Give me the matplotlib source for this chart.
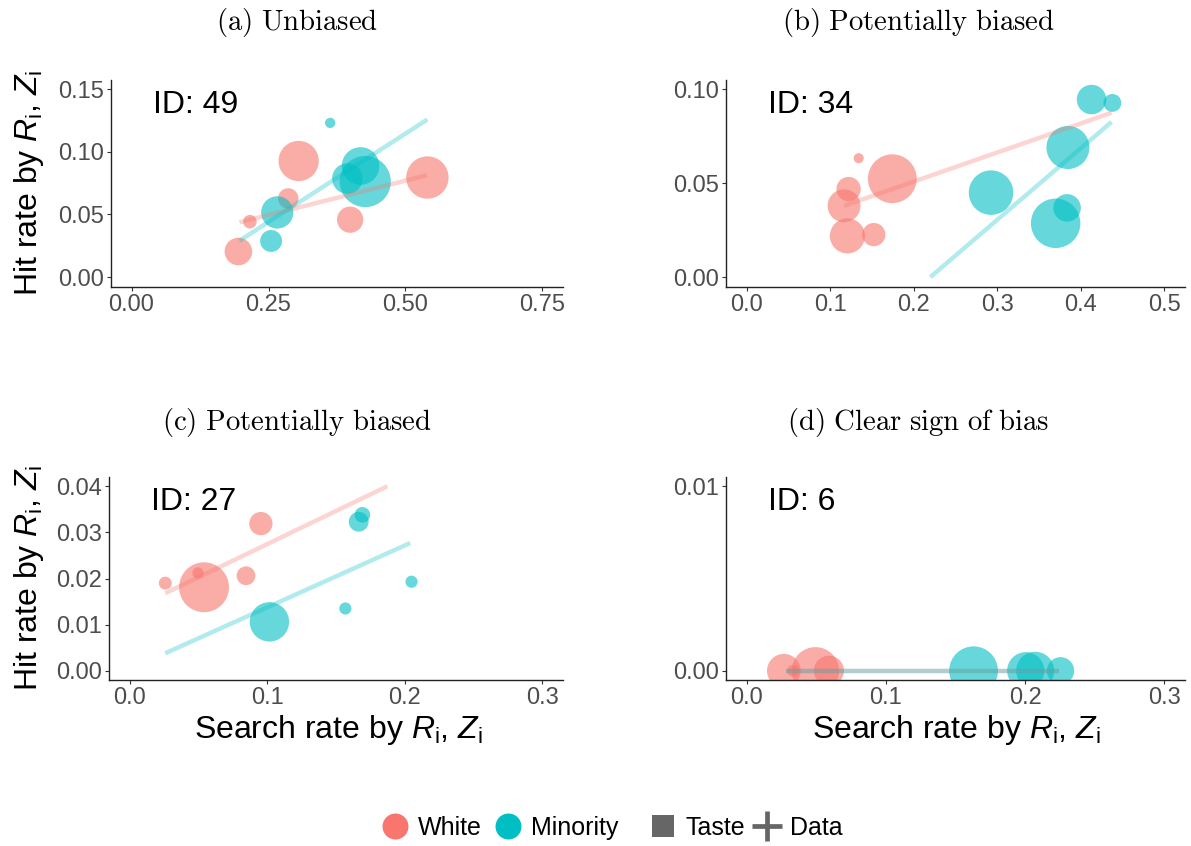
import matplotlib
matplotlib.use("Agg")
import matplotlib.pyplot as plt
from matplotlib.lines import Line2D

plt.rcParams['font.family'] = ['Liberation Sans', 'DejaVu Sans']
plt.rcParams['mathtext.fontset'] = 'custom'
plt.rcParams['mathtext.rm'] = 'Liberation Sans'
plt.rcParams['mathtext.it'] = 'Liberation Sans:italic'

# ---------------- data ----------------
titles = ["(a) Unbiased", "(b) Potentially biased", "(c) Potentially biased", "(d) Clear sign of bias"]
ids = ["49", "34", "27", "6"]

# panel (a)
a_white_x = [0.195, 0.216, 0.305, 0.286, 0.399, 0.540]
a_white_y = [0.0204, 0.0442, 0.0926, 0.0627, 0.0458, 0.0794]
a_white_n = [164, 40, 350, 90, 149, 388]
a_min_x = [0.3625, 0.266, 0.2547, 0.394, 0.418, 0.4266]
a_min_y = [0.123, 0.0516, 0.0288, 0.0786, 0.0886, 0.0762]
a_min_n = [23, 225, 104, 202, 306, 566]
a_white_line_x = [0.197, 0.539]
a_white_line_y = [0.0437, 0.0812]
a_min_line_x = [0.197, 0.540]
a_min_line_y = [0.029, 0.1257]

# panel (b)
b_white_x = [0.134, 0.1743, 0.1219, 0.1165, 0.1205, 0.1521]
b_white_y = [0.0632, 0.0523, 0.0468, 0.0379, 0.0219, 0.0226]
b_white_n = [22, 515, 128, 234, 266, 117]
b_min_x = [0.413, 0.438, 0.3847, 0.2926, 0.3837, 0.370]
b_min_y = [0.0944, 0.0926, 0.0689, 0.0449, 0.0368, 0.0286]
b_min_n = [188, 69, 400, 428, 164, 529]
b_white_line_x = [0.1165, 0.437]
b_white_line_y = [0.0379, 0.0874]
b_min_line_x = [0.2199, 0.437]
b_min_line_y = [0.0, 0.0825]

# panel (c)
c_white_x = [0.0259, 0.0497, 0.0541, 0.0846, 0.0954]
c_white_y = [0.0190, 0.0212, 0.0181, 0.0206, 0.0319]
c_white_n = [36, 28, 538, 76, 117]
c_min_x = [0.1692, 0.1665, 0.1016, 0.1568, 0.2049]
c_min_y = [0.0338, 0.0323, 0.0106, 0.0135, 0.0193]
c_min_n = [53, 85, 335, 32, 32]
c_white_line_x = [0.0259, 0.1873]
c_white_line_y = [0.0168, 0.0400]
c_min_line_x = [0.0259, 0.204]
c_min_line_y = [0.0038, 0.0277]

# panel (d)
d_white_x = [0.0266, 0.0493, 0.059, 0.0333]
d_white_y = [0.0, 0.0, 0.0, 0.0]
d_white_n = [246, 484, 196, 30]
d_min_x = [0.163, 0.2005, 0.2073, 0.2255]
d_min_y = [0.0, 0.0, 0.0, 0.0]
d_min_n = [515, 300, 313, 161]
d_white_line_x = [0.028, 0.2244]
d_white_line_y = [0.0, 0.0]
d_min_line_x = [0.028, 0.2244]
d_min_line_y = [0.0, 0.0]

x_ticks = [[0.0, 0.25, 0.5, 0.75], [0.0, 0.1, 0.2, 0.3, 0.4, 0.5], [0.0, 0.1, 0.2, 0.3], [0.0, 0.1, 0.2, 0.3]]
x_ticklabels = [["0.00", "0.25", "0.50", "0.75"], ["0.0", "0.1", "0.2", "0.3", "0.4", "0.5"],
                ["0.0", "0.1", "0.2", "0.3"], ["0.0", "0.1", "0.2", "0.3"]]
y_ticks = [[0.0, 0.05, 0.10, 0.15], [0.0, 0.05, 0.10], [0.0, 0.01, 0.02, 0.03, 0.04], [0.0, 0.01]]
y_ticklabels = [["0.00", "0.05", "0.10", "0.15"], ["0.00", "0.05", "0.10"],
                ["0.00", "0.01", "0.02", "0.03", "0.04"], ["0.00", "0.01"]]
x_lims = [(0, 0.75), (0, 0.5), (0, 0.3), (0, 0.3)]
y_lims = [(0, 0.15), (0, 0.10), (0, 0.04), (0, 0.01)]

panels = [
    (a_white_x, a_white_y, a_white_n, a_min_x, a_min_y, a_min_n, a_white_line_x, a_white_line_y, a_min_line_x, a_min_line_y),
    (b_white_x, b_white_y, b_white_n, b_min_x, b_min_y, b_min_n, b_white_line_x, b_white_line_y, b_min_line_x, b_min_line_y),
    (c_white_x, c_white_y, c_white_n, c_min_x, c_min_y, c_min_n, c_white_line_x, c_white_line_y, c_min_line_x, c_min_line_y),
    (d_white_x, d_white_y, d_white_n, d_min_x, d_min_y, d_min_n, d_white_line_x, d_white_line_y, d_min_line_x, d_min_line_y),
]

# ---------------- style ----------------
RED = "#F8766D"
TEAL = "#00BFC4"
W, H = 1191, 846
fig = plt.figure(figsize=(W / 100, H / 100), dpi=100)

def box(l, r, t, b):
    return [l / W, 1 - b / H, (r - l) / W, (b - t) / H]

positions = [box(111, 563, 79.6, 286.5), box(726, 1185, 79.6, 286.5),
             box(109, 563, 477, 680), box(726, 1185, 477, 680)]
size_k = 2.4

for i, (pos, pdata) in enumerate(zip(positions, panels)):
    wx, wy, wn, mx, my, mn, wlx, wly, mlx, mly = pdata
    ax = fig.add_axes(pos)
    ax.scatter(wx, wy, s=[v * size_k for v in wn], color=RED, alpha=0.6, linewidths=0, zorder=2)
    ax.scatter(mx, my, s=[v * size_k for v in mn], color=TEAL, alpha=0.6, linewidths=0, zorder=2)
    ax.plot(wlx, wly, color=RED, alpha=0.3, lw=3.2, solid_capstyle='butt', zorder=3)
    ax.plot(mlx, mly, color=TEAL, alpha=0.3, lw=3.2, solid_capstyle='butt', zorder=3)
    x0, x1 = x_lims[i]
    y0, y1 = y_lims[i]
    ex = 0.05 * (x1 - x0)
    ey = 0.05 * (y1 - y0)
    ax.set_xlim(x0 - ex, x1 + ex)
    ax.set_ylim(y0 - ey, y1 + ey)
    ax.set_xticks(x_ticks[i])
    ax.set_xticklabels(x_ticklabels[i])
    ax.set_yticks(y_ticks[i])
    ax.set_yticklabels(y_ticklabels[i])
    for s in ['top', 'right']:
        ax.spines[s].set_visible(False)
    for s in ['left', 'bottom']:
        ax.spines[s].set_color('#222222')
        ax.spines[s].set_linewidth(1.0)
    ax.tick_params(length=2.9, width=0.8, color='#333333', labelcolor='#4D4D4D',
                   labelsize=17, pad=2.2)
    ax.text(0.092, 0.877, "ID: " + ids[i], transform=ax.transAxes, ha='left', va='center',
            fontsize=23, color='black')

# titles
title_pos = [(297, 22), (918, 22), (297, 422), (918, 422)]
for t, (tx, ty) in zip(titles, title_pos):
    fig.text(tx / W, 1 - ty / H, r'$\mathrm{' + t.replace(' ', r'\ ') + '}$',
             math_fontfamily='cm', fontsize=20.7, ha='center', va='center')

ylab = r'Hit rate by $R_\mathrm{i}$, $Z_\mathrm{i}$'
xlab = r'Search rate by $R_\mathrm{i}$, $Z_\mathrm{i}$'
fig.text(29 / W, 1 - 183 / H, ylab, rotation=90, fontsize=23, ha='center', va='center')
fig.text(29 / W, 1 - 578 / H, ylab, rotation=90, fontsize=23, ha='center', va='center')
fig.text(338 / W, 1 - 738 / H, xlab, fontsize=23, ha='center', va='baseline')
fig.text(956 / W, 1 - 738 / H, xlab, fontsize=23, ha='center', va='baseline')

# legends
h1 = [Line2D([], [], ls='none', marker='o', ms=18.7, color=RED, mew=0),
      Line2D([], [], ls='none', marker='o', ms=18.7, color=TEAL, mew=0)]
leg1 = fig.legend(h1, ["White", "Minority"], ncol=2, frameon=False, fontsize=18,
                  handlelength=1.04, handletextpad=0.4, columnspacing=0.52, borderpad=0,
                  borderaxespad=0, loc='center', bbox_to_anchor=(500 / W, 1 - 828 / H))
h2 = [Line2D([], [], ls='none', marker='s', ms=16.5, color='#666666', mew=0),
      Line2D([], [], ls='none', marker='+', ms=21.6, color='#666666', mew=3.4)]
leg2 = fig.legend(h2, ["Taste", "Data"], ncol=2, frameon=False, fontsize=18,
                  handlelength=1.2, handletextpad=0.32, columnspacing=0.24, borderpad=0,
                  borderaxespad=0, loc='center', bbox_to_anchor=(745 / W, 1 - 828 / H))

fig.savefig("out.png", dpi=100)
